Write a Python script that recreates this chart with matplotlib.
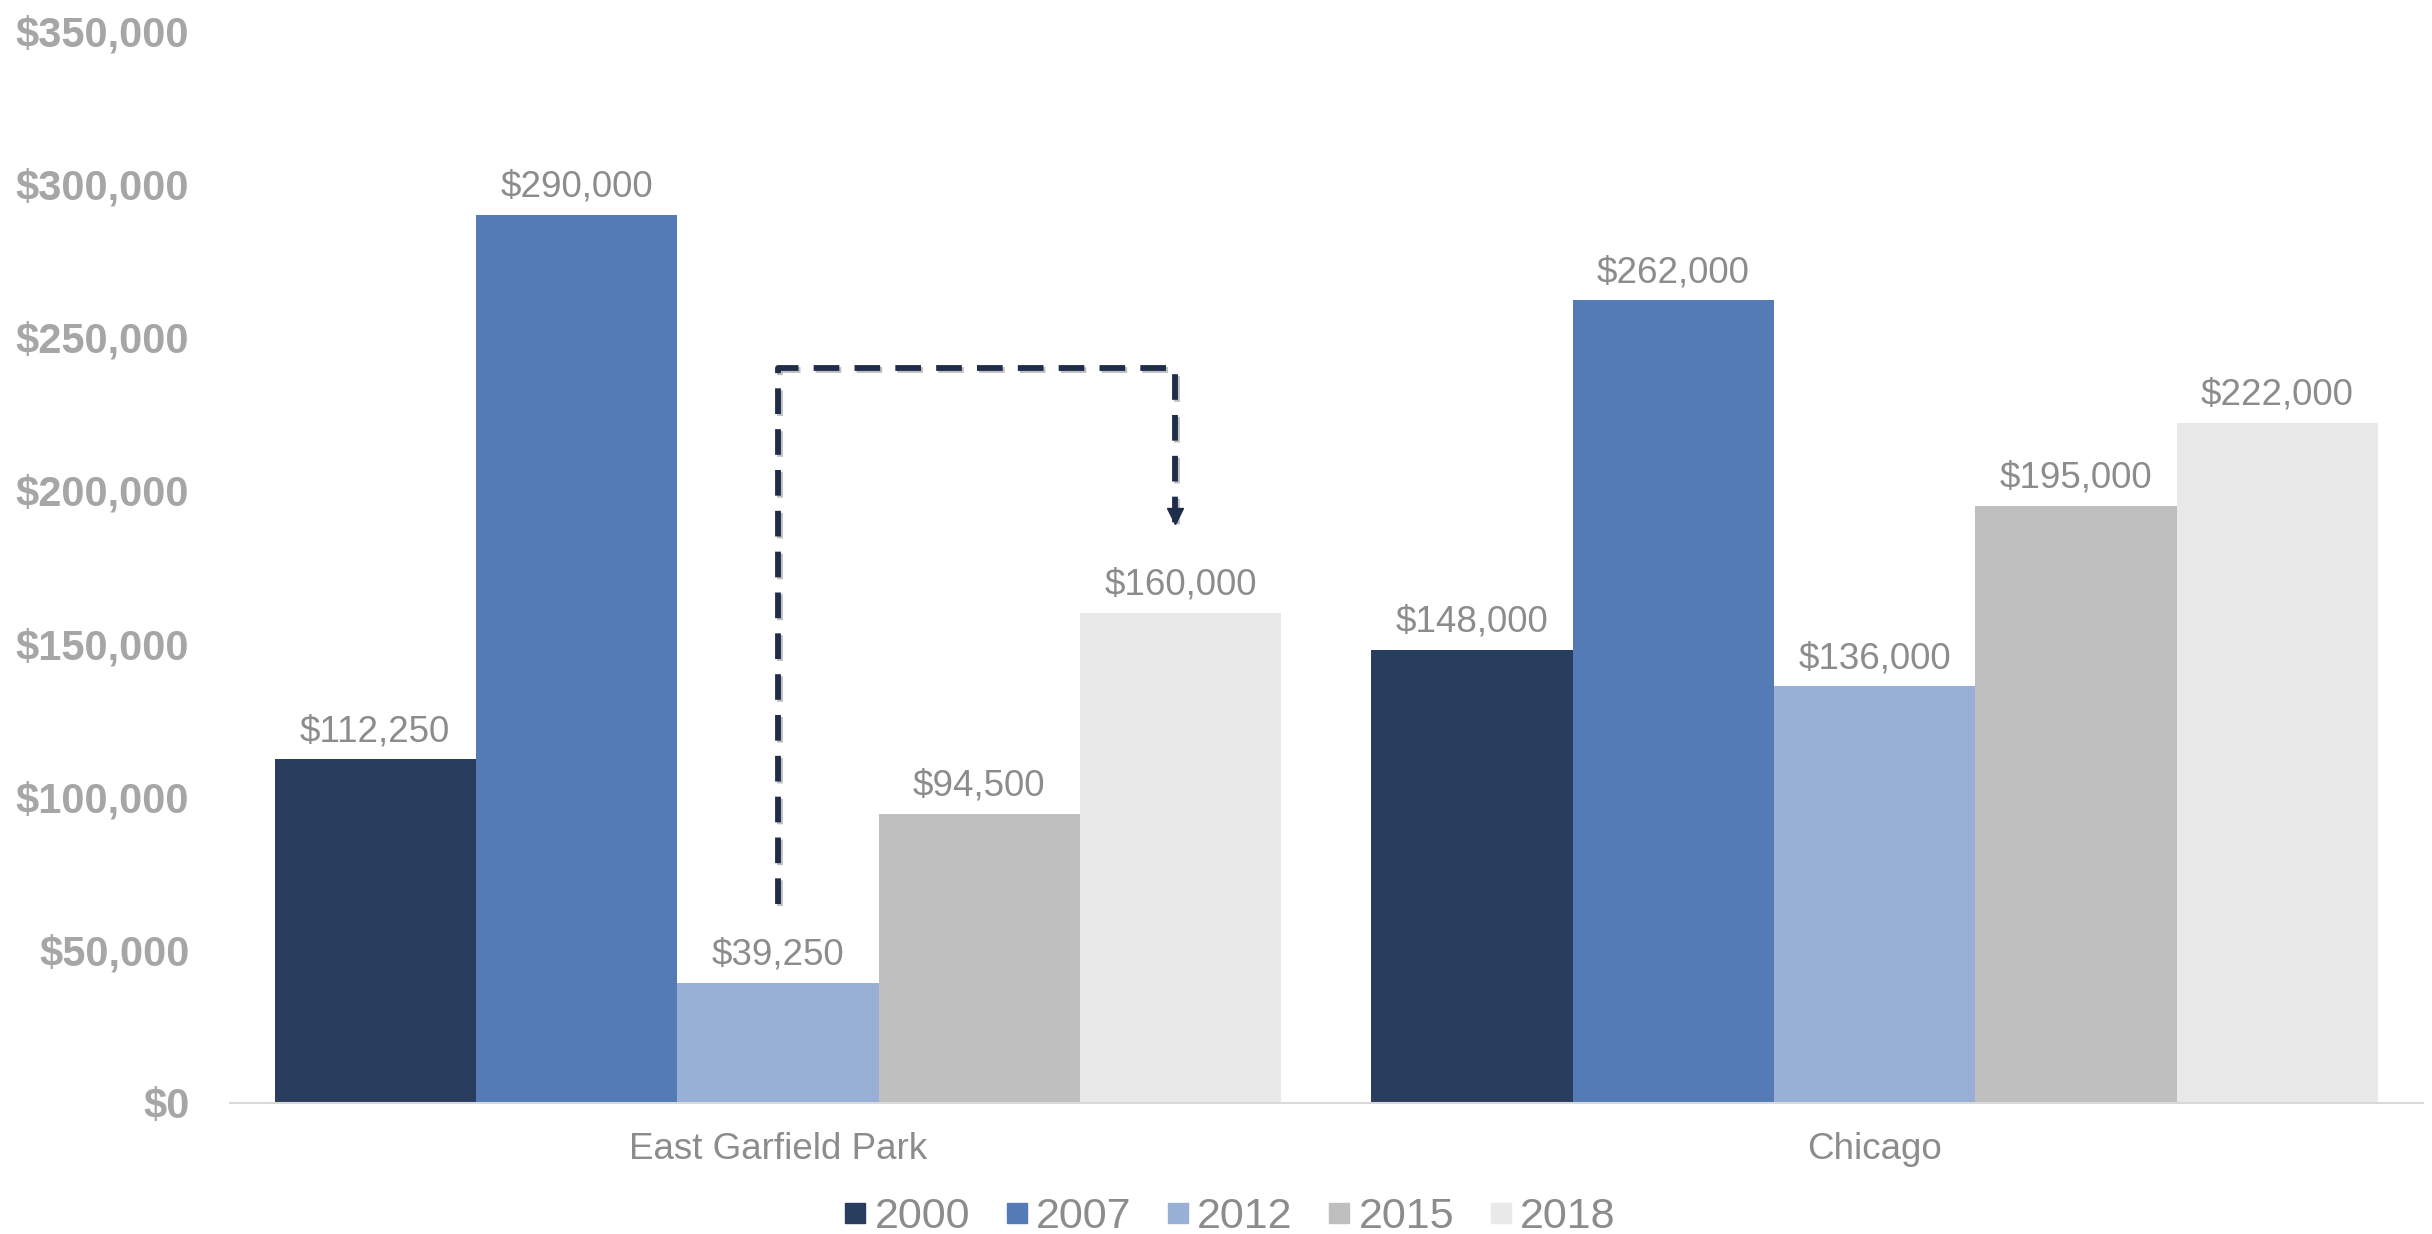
import numpy as np
import matplotlib
matplotlib.use("Agg")
import matplotlib.pyplot as plt
import matplotlib.patheffects as pe
from matplotlib.lines import Line2D
from matplotlib.ticker import FuncFormatter

plt.rcParams['font.family'] = ['Liberation Sans', 'DejaVu Sans']

areas = ['East Garfield Park', 'Chicago']
years = ['2000', '2007', '2012', '2015', '2018']
values = {
    '2000': [112250, 148000],
    '2007': [290000, 262000],
    '2012': [39250, 136000],
    '2015': [94500, 195000],
    '2018': [160000, 222000],
}
colors = ['#293D5E', '#547BB6', '#98B0D6', '#BFBFBF', '#E9E9E9']

# dashed arrow: from the 2012 bar up, across, down to the 2018 bar
arrow_y = [65000, 240000, 240000, 189000]

fig = plt.figure(figsize=(24.32, 12.34), dpi=100)
ax = fig.add_axes([0.0944, 0.1062, 0.9019, 0.8687])

x = np.arange(len(areas))
w = 0.918 / len(years)
for i, yr in enumerate(years):
    pos = x + (i - 2) * w
    bars = ax.bar(pos, values[yr], width=w, color=colors[i], label=yr, zorder=2)
    for xp, v in zip(pos, values[yr]):
        ax.annotate('${:,}'.format(v), (xp, v), xytext=(0, 13), textcoords='offset points',
                    ha='center', va='baseline', fontsize=26.5, color='#8C8C8C')

ax.set_xlim(-0.5, 1.5)
ax.set_ylim(0, 350000)
ax.set_yticks(np.arange(0, 350001, 50000))
ax.yaxis.set_major_formatter(FuncFormatter(lambda v, p: '${:,.0f}'.format(v)))
for lab in ax.get_yticklabels():
    lab.set_fontweight('bold')
ax.tick_params(axis='y', length=0, pad=29, labelsize=30, labelcolor='#A6A6A6')
ax.set_xticks(x)
ax.set_xticklabels(areas)
ax.tick_params(axis='x', length=0, pad=21, labelsize=26.5, labelcolor='#8C8C8C')

for s in ['top', 'right', 'left']:
    ax.spines[s].set_visible(False)
ax.spines['bottom'].set_color('#D9D9D9')
ax.spines['bottom'].set_linewidth(1.5)

ax_x = [x[0], x[0], x[0] + 2 * w - 0.005, x[0] + 2 * w - 0.005]
ax.plot(ax_x, arrow_y, color='#1F2D4A', lw=4.2, linestyle=(0, (4.4, 2.6)),
        solid_capstyle='butt', zorder=3,
        path_effects=[pe.SimpleLineShadow(offset=(1.5, -1.5), alpha=0.25), pe.Normal()])
ax.plot([ax_x[-1]], [arrow_y[-1] + 2800], marker='v', markersize=12, color='#1F2D4A',
        linestyle='', zorder=4)

handles = [Line2D([], [], marker='s', linestyle='', color=c, markersize=14) for c in colors]
fig.legend(handles, years, loc='center', bbox_to_anchor=(0.506, 0.014), ncol=5,
           frameon=False, fontsize=31, labelcolor='#8C8C8C', handlelength=0.45,
           handletextpad=0.22, columnspacing=0.86, borderpad=0)

fig.savefig('out.png', dpi=100)
